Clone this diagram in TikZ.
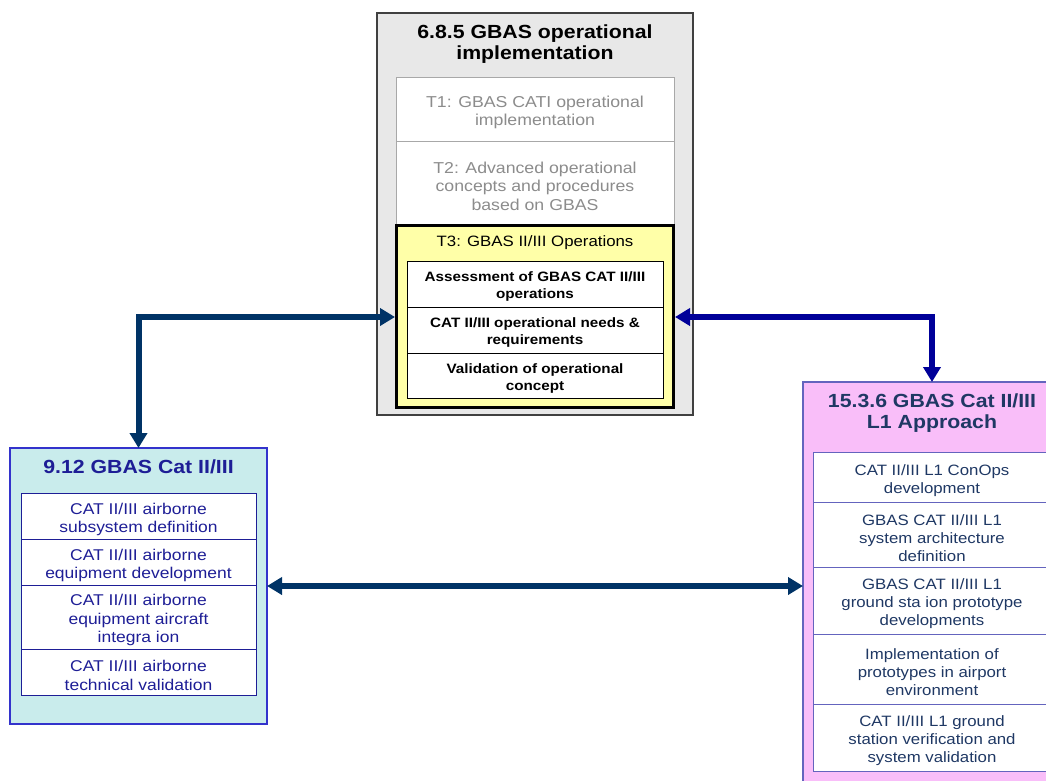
\documentclass[tikz,border=0pt]{standalone}
\usepackage{fontspec}
\setmainfont[FakeStretch=1.12]{Liberation Sans}
\usetikzlibrary{arrows.meta}
\definecolor{topgray}{HTML}{E8E8E8}
\definecolor{topedge}{HTML}{404040}
\definecolor{lightedge}{HTML}{A8A8A8}
\definecolor{lighttext}{HTML}{8C8C8C}
\definecolor{tyellow}{HTML}{FFFFA8}
\definecolor{cyanfill}{HTML}{C9ECEC}
\definecolor{cyanedge}{HTML}{3333CC}
\definecolor{cyantext}{HTML}{1E1E96}
\definecolor{pinkfill}{HTML}{F9BEF9}
\definecolor{pinkedge}{HTML}{6464BE}
\definecolor{pinktext}{HTML}{1F3864}
\definecolor{arrnavy}{HTML}{003366}
\definecolor{arrblue}{HTML}{000099}
\newcommand{\lowr}{\rule{0pt}{1.15em}}
\tikzset{
  boxnode/.style={draw, inner sep=0pt, outer sep=0pt, anchor=north west, align=center},
  ttl/.style={font=\bfseries\fontsize{19}{20.5}\selectfont, align=center},
  sec/.style={font=\fontsize{15.8}{18.5}\selectfont},
  itm/.style={font=\bfseries\fontsize{13.6}{17}\selectfont},
  lit/.style={font=\fontsize{15.6}{18.5}\selectfont, text=cyantext},
  rit/.style={font=\fontsize{15}{18}\selectfont, text=pinktext},
  conn/.style={line width=6pt, arrows={Triangle[width=17pt,length=15pt]-Triangle[width=17pt,length=15pt]}},
}
\begin{document}
\begin{tikzpicture}[x=1pt,y=-1pt]
\useasboundingbox (0,0) rectangle (1046,780);
\clip (0,0) rectangle (1046,780);

% ---- top box 6.8.5
\node[boxnode, draw=topedge, fill=topgray, line width=1.2pt, minimum width=316pt, minimum height=402pt] (wp685) at (377,13) {};
\node[ttl, text=black] (t685) at (535,44) {6.8.5 GBAS operational\\implementation};
\node[boxnode, draw=lightedge, fill=white, line width=1pt, minimum width=278pt, minimum height=64pt, sec, text=lighttext] (tone) at (396,77) {\lowr T1: GBAS CATI operational\\implementation};
\node[boxnode, draw=lightedge, fill=white, line width=1pt, minimum width=278pt, minimum height=83pt, sec, text=lighttext] (ttwo) at (396,141) {\lowr T2: Advanced operational\\concepts and procedures\\based on GBAS};
\node[boxnode, draw=black, fill=tyellow, line width=3pt, minimum width=277pt, minimum height=182pt] (tthree) at (396.5,225.5) {};
\node[font=\fontsize{15}{18}\selectfont, text=black] (tthreet) at (535,243) {T3: GBAS II/III Operations};
\node[boxnode, fill=white, line width=1pt, minimum width=256pt, minimum height=46pt, itm] (ta) at (407,261) {\lowr Assessment of GBAS CAT II/III\\operations};
\node[boxnode, fill=white, line width=1pt, minimum width=256pt, minimum height=46pt, itm] (tb) at (407,307) {\lowr CAT II/III operational needs \&\\requirements};
\node[boxnode, fill=white, line width=1pt, minimum width=256pt, minimum height=45pt, itm] (tc) at (407,353) {\lowr Validation of operational\\concept};

% ---- left box 9.12
\node[boxnode, draw=cyanedge, fill=cyanfill, line width=1.3pt, minimum width=257pt, minimum height=276pt] (wp912) at (10,448) {};
\node[ttl, text=cyantext] (t912) at (138.5,467) {9.12 GBAS Cat II/III};
\node[boxnode, draw=cyantext, fill=white, line width=1pt, minimum width=235pt, minimum height=46pt, lit] (la) at (21,493) {\lowr CAT II/III airborne\\subsystem definition};
\node[boxnode, draw=cyantext, fill=white, line width=1pt, minimum width=235pt, minimum height=46pt, lit] (lb) at (21,539) {\lowr CAT II/III airborne\\equipment development};
\node[boxnode, draw=cyantext, fill=white, line width=1pt, minimum width=235pt, minimum height=64pt, lit] (lc) at (21,585) {\lowr CAT II/III airborne\\equipment aircraft\\integra ion};
\node[boxnode, draw=cyantext, fill=white, line width=1pt, minimum width=235pt, minimum height=46pt, lit] (ld) at (21,649) {\lowr CAT II/III airborne\\technical validation};

% ---- right box 15.3.6
\node[boxnode, draw=pinkedge, fill=pinkfill, line width=1.3pt, minimum width=258pt, minimum height=408pt] (wp1536) at (803,382) {};
\node[ttl, text=pinktext] (t1536) at (932,413) {15.3.6 GBAS Cat II/III\\L1 Approach};
\node[boxnode, draw=pinkedge, fill=white, line width=1pt, minimum width=238pt, minimum height=50pt, rit] (ra) at (813,452) {\lowr CAT II/III L1 ConOps\\development};
\node[boxnode, draw=pinkedge, fill=white, line width=1pt, minimum width=238pt, minimum height=65pt, rit] (rb) at (813,502) {\lowr GBAS CAT II/III L1\\system architecture\\definition};
\node[boxnode, draw=pinkedge, fill=white, line width=1pt, minimum width=238pt, minimum height=67pt, rit] (rc) at (813,567) {\lowr GBAS CAT II/III L1\\ground sta ion prototype\\developments};
\node[boxnode, draw=pinkedge, fill=white, line width=1pt, minimum width=238pt, minimum height=70pt, rit] (rd) at (813,634) {\lowr Implementation of\\prototypes in airport\\environment};
\node[boxnode, draw=pinkedge, fill=white, line width=1pt, minimum width=238pt, minimum height=67pt, rit] (re) at (813,704) {\lowr CAT II/III L1 ground\\station verification and\\system validation};

% ---- connectors
\coordinate (lin) at (395,317);
\coordinate (rin) at (675,317);
\draw[conn, arrnavy] (lin) -| (wp912.north);
\draw[conn, arrblue] (rin) -| (wp1536.north);
\draw[conn, arrnavy] (wp912.east) -- (wp1536.west);
\end{tikzpicture}
\end{document}
